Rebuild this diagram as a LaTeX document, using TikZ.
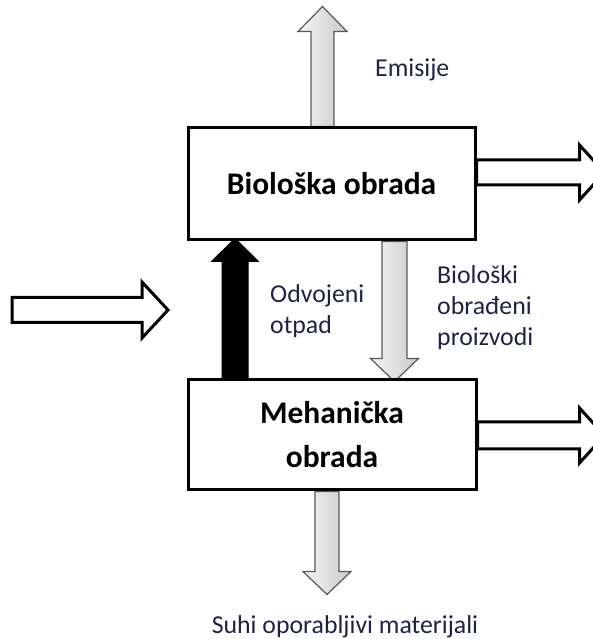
\documentclass[tikz,border=0pt]{standalone}
\usepackage{fontspec}
\setmainfont{Carlito}
\usetikzlibrary{positioning,calc,backgrounds}
\definecolor{labeltext}{RGB}{30,35,70}
\tikzset{
  pics/fatarrow/.style n args={4}{code={
    \path[pic actions] (0,-#2) -- ({#1-#4},-#2) -- ({#1-#4},-#3) -- (#1,0)
      -- ({#1-#4},#3) -- ({#1-#4},#2) -- (0,#2) -- cycle;
  }}
}
\begin{document}
\begin{tikzpicture}[x=1pt,y=1pt,
  box/.style={draw,line width=3pt,fill=white,minimum width=287pt,inner sep=0pt,
    font=\fontsize{31.5}{44}\selectfont\bfseries,align=center},
  grayarrow/.style={draw=black!65,line width=1.2pt,left color=gray!8,right color=gray!42},
  outarrow/.style={draw,line width=3pt,fill=white},
  sortarrow/.style={draw,line width=1pt,fill=black},
  lbl/.style={text=labeltext,font=\fontsize{25.8}{31}\selectfont,align=left,inner sep=0pt}]
 \useasboundingbox (0,0) rectangle (593,639);
 \node[box,minimum height=112pt] (bio) at (331.5,455) {Biološka obrada};
 \node[box,minimum height=110pt,minimum width=288pt] (meh) at (332,204) {Mehanička\\obrada};
 \begin{scope}[on background layer]
  \pic[grayarrow,rotate=90] at ($(bio.north)+(-9,0)$) {fatarrow={120}{11.5}{24.5}{25}};
  \pic[grayarrow,rotate=-90] at ($(bio.south)+(63,0)$) {fatarrow={140}{12.5}{24}{23}};
  \pic[sortarrow,rotate=90] at ($(meh.north)+(-97,0)$) {fatarrow={140}{13}{23.5}{23}};
  \pic[grayarrow,rotate=-90] at ($(meh.south)+(-5,0)$) {fatarrow={103}{12}{24}{23}};
  \pic[outarrow] at (12,329) {fatarrow={156}{12.5}{28}{26}};
  \pic[outarrow] at ($(bio.east)+(0,11.5)$) {fatarrow={128}{12.5}{27.5}{25}};
  \pic[outarrow] at ($(meh.east)+(0,-0.5)$) {fatarrow={127}{13.5}{27.5}{25}};
 \end{scope}
 \node[lbl,anchor=west] (emis) at (375,569) {Emisije};
 \node[lbl,anchor=west] (odv) at (270,328) {Odvojeni\\otpad};
 \node[lbl,anchor=west] (bioprod) at (437,331) {Biološki\\obrađeni\\proizvodi};
 \node[lbl] (suhi) at (345,12) {Suhi oporabljivi materijali};
\end{tikzpicture}
\end{document}
